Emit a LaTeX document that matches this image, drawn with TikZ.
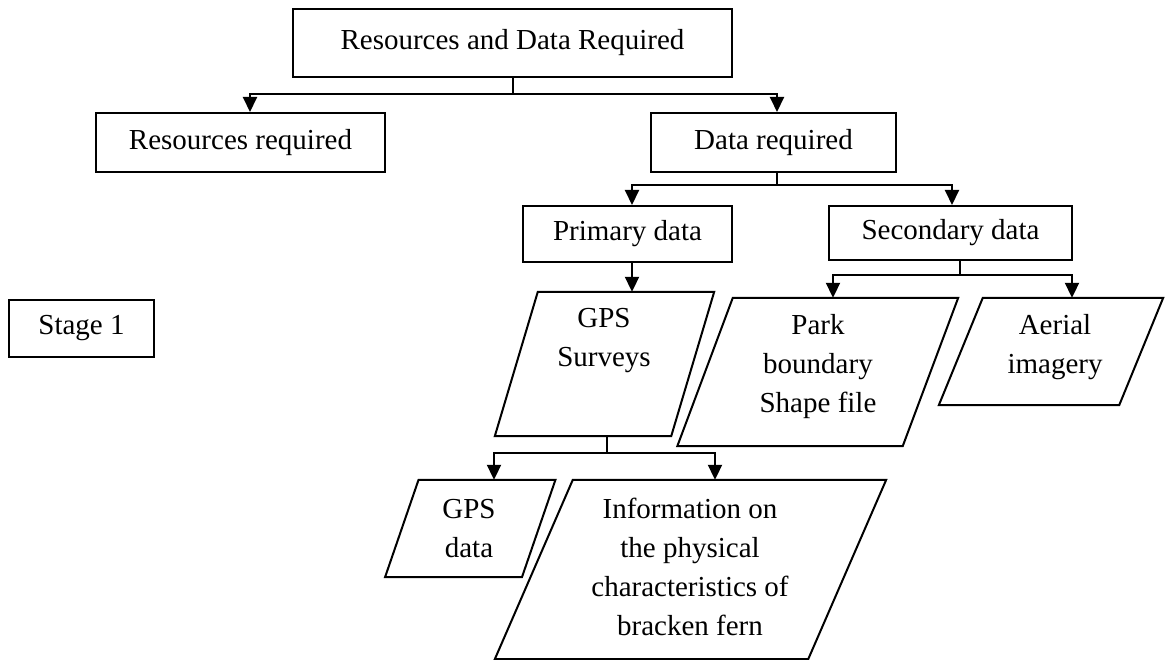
\documentclass[tikz,border=0pt]{standalone}
\usepackage{fontspec}
\setmainfont{Liberation Serif}
\usetikzlibrary{arrows.meta}
\newcommand{\paral}[2]{\draw[line width=2pt, line join=miter] ([xshift=#2]#1.north west) -- ([xshift=#2]#1.north east) -- ([xshift=-#2]#1.south east) -- ([xshift=-#2]#1.south west) -- cycle;}
\begin{document}
\begin{tikzpicture}[x=1pt,y=-1pt,
  every node/.style={font=\fontsize{29}{39}\selectfont},
  rbox/.style={draw, line width=2pt, rectangle, inner sep=0pt},
  pshape/.style={rectangle, inner sep=0pt},
  txt/.style={align=center, inner sep=0pt},
  conn/.style={line width=2pt},
  arr/.style={line width=2pt, -{Triangle[length=15pt,width=14pt]}},
]
\fill[white] (0,0) rectangle (1165,660);
\useasboundingbox (0,0) rectangle (1165,660);

% rectangular boxes
\node[rbox, minimum width=439pt, minimum height=68pt] (top) at (512.5,43) {Resources and Data Required};
\node[rbox, minimum width=289pt, minimum height=59pt] (resreq) at (240.5,142.5) {Resources required};
\node[rbox, minimum width=245pt, minimum height=59pt] (datareq) at (773.5,142.5) {Data required};
\node[rbox, minimum width=209pt, minimum height=56pt] (primary) at (627.5,234) {Primary data};
\node[rbox, minimum width=243pt, minimum height=54pt] (secondary) at (950.5,233) {Secondary data};
\node[rbox, minimum width=145pt, minimum height=57pt] (stage) at (81.5,328.5) {Stage 1};

% parallelogram bodies
\node[pshape, minimum width=176pt, minimum height=144pt] (gpss) at (604.5,364) {};
\node[pshape, minimum width=225pt, minimum height=148pt] (park) at (817.75,372) {};
\node[pshape, minimum width=180pt, minimum height=107pt] (aerial) at (1051,351.5) {};
\node[pshape, minimum width=136.5pt, minimum height=97pt] (gpsd) at (470.25,528.5) {};
\node[pshape, minimum width=313pt, minimum height=179pt] (info) at (690.5,569.5) {};
\paral{gpss}{21.5pt}
\paral{park}{27.75pt}
\paral{aerial}{22pt}
\paral{gpsd}{16.75pt}
\paral{info}{39pt}

% texts in parallelograms
\node[txt] (gpss-t) at (604,340.5) {GPS\\Surveys};
\node[txt] (park-t) at (818,367) {Park\\boundary\\Shape file};
\node[txt] (aerial-t) at (1055,347) {Aerial\\imagery};
\node[txt] (gpsd-t) at (469,529) {GPS\\data};
\node[txt] (info-t) at (690,566.5) {Information on\\the physical\\characteristics of\\bracken fern};

% connectors
\draw[conn] (top.south) -- ++(0,16) coordinate (j1);
\draw[arr] (j1) -| ([xshift=9.5pt]resreq.north);
\draw[arr] (j1) -| ([xshift=3.5pt]datareq.north);

\draw[conn] ([xshift=3.5pt]datareq.south) -- ++(0,12) coordinate (j2);
\draw[arr] (j2) -| ([xshift=4.5pt]primary.north);
\draw[arr] (j2) -| ([xshift=1.5pt]secondary.north);

\draw[arr] ([xshift=4.5pt]primary.south) -- ([xshift=27.5pt]gpss.north);

\draw[conn] ([xshift=9.5pt]secondary.south) -- ++(0,14) coordinate (j3);
\draw[arr] (j3) -| ([xshift=15.25pt]park.north);
\draw[arr] (j3) -| ([xshift=21pt]aerial.north);

\draw[conn] ([xshift=2.5pt]gpss.south) -- ++(0,17) coordinate (j4);
\draw[arr] (j4) -| ([xshift=23.75pt]gpsd.north);
\draw[arr] (j4) -| ([xshift=24.5pt]info.north);
\end{tikzpicture}
\end{document}
